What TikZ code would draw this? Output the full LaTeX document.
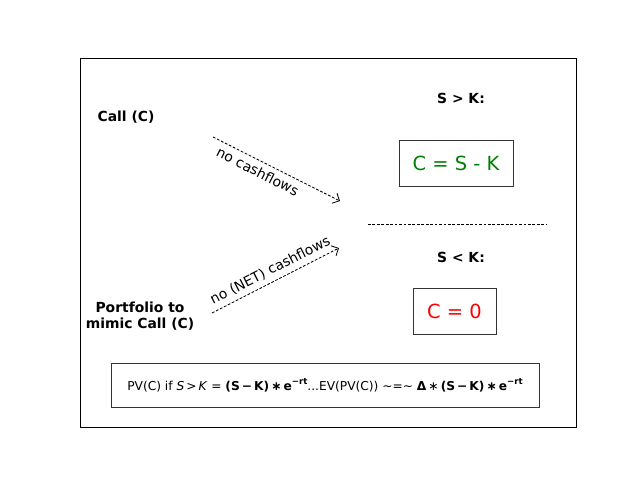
\documentclass[tikz,border=0pt]{standalone}
\usepackage{fontspec}
\setmainfont{DejaVu Sans}
\usetikzlibrary{arrows.meta}
\newcommand{\sups}[1]{\raisebox{0.85ex}{\fontsize{6.2}{7}\selectfont #1}}
\begin{document}
\begin{tikzpicture}[x=0.72pt,y=-0.72pt,
  lbl/.style={font=\bfseries\fontsize{10}{12}\selectfont, align=center, inner sep=0pt},
  valbox/.style={draw=black!80, line width=0.7pt, minimum height=46*0.72pt, inner sep=0pt, font=\fontsize{14}{16}\selectfont},
  flow/.style={line width=0.6pt, dash pattern=on 2pt off 1.2pt, -{Straight Barb[length=4pt,width=8pt,line width=0.6pt]}},
  flowlbl/.style={font=\fontsize{10}{12}\selectfont, sloped, inner sep=3.5pt}]
\useasboundingbox (0,0) rectangle (640,480);
\draw[line width=0.65pt] (80,58) rectangle (576,427);
\node[lbl] (call) at (126,117) {Call (C)};
\node[lbl] (port) at (140,316) {Portfolio to\\mimic Call (C)};
\node[lbl] (sgk) at (461,98) {S > K:};
\node[lbl] (slk) at (461,257) {S < K:};
\node[valbox, minimum width=114*0.72pt, text={rgb,255:red,0;green,128;blue,0}] (csk) at (456,163) {C = S - K};
\node[valbox, minimum width=83*0.72pt, text=red] (c0) at (454.5,311) {C = 0};
\coordinate (sepL) at (368,224);
\coordinate (sepR) at (546,224);
\draw[line width=0.6pt, dash pattern=on 2pt off 1.2pt] (sepL) -- (sepR);
\coordinate (a1s) at (213,137);
\coordinate (a1e) at (340,201);
\coordinate (a2s) at (212,313);
\coordinate (a2e) at (339,248);
\draw[flow] (a1s) -- node[flowlbl, below, pos=0.39] (l1) {no cashflows} (a1e);
\draw[flow] (a2s) -- node[flowlbl, above, pos=0.5] (l2) {no (NET) cashflows} (a2e);
\node[draw=black!80, line width=0.7pt, minimum width=428*0.72pt, minimum height=44*0.72pt, inner sep=0pt, font=\fontsize{8.8}{11}\selectfont] (pv) at (325,385)
 {PV(C) if \textit{S}\,>\,\textit{K} = \textbf{(S\,−\,K)\,∗\,e\sups{\bfseries −rt}}...EV(PV(C)) \textasciitilde=\textasciitilde\ \textbf{Δ}\,∗\,\textbf{(S\,−\,K)\,∗\,e\sups{\bfseries −rt}}};
\end{tikzpicture}
\end{document}
